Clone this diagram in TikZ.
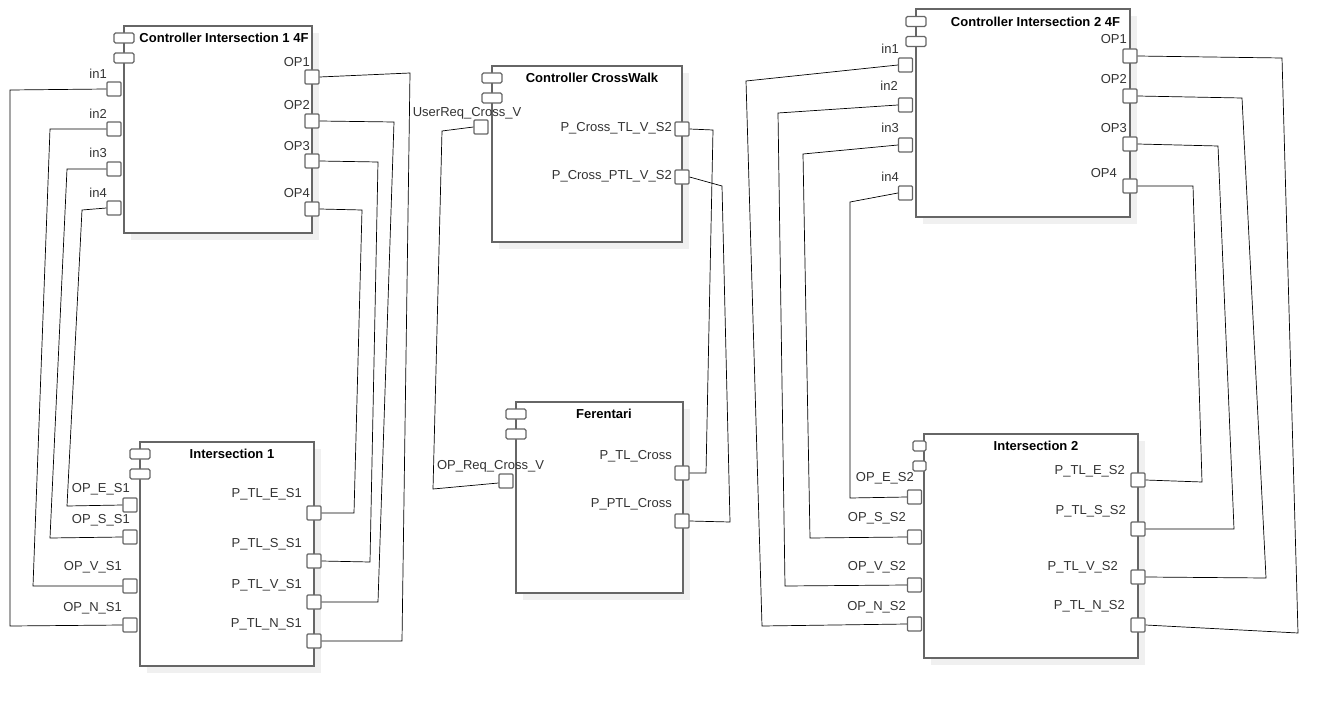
\documentclass[tikz,border=0pt]{standalone}
\usepackage{fontspec}
\setmainfont{Liberation Sans}
\usetikzlibrary{shadows}
\definecolor{bordergray}{HTML}{666666}
\definecolor{shadowgray}{HTML}{F0F0F0}
\definecolor{labelgray}{HTML}{333333}
\tikzset{
  comp/.style={draw=bordergray, line width=1.2pt, fill=white, inner sep=0pt,
    general shadow={fill=shadowgray, shadow xshift=7pt, shadow yshift=-7pt}},
  icon/.style={draw=bordergray, line width=1.1pt, fill=white, inner sep=0pt,
    minimum width=20pt, minimum height=10pt, rounded corners=1.5pt},
  port/.style={draw=bordergray, line width=1.1pt, fill=white, inner sep=0pt,
    minimum size=14pt, rounded corners=1pt},
  title/.style={font=\fontsize{13}{15}\selectfont\bfseries, inner sep=0pt, text=black},
  plabel/.style={font=\fontsize{13}{15}\selectfont, inner sep=0pt, text=labelgray},
  lab/.style={plabel, anchor=mid east},
  wire/.style={draw=black, line width=0.7pt},
}
\begin{document}
\begin{tikzpicture}[x=1pt,y=-1pt]
\useasboundingbox (0,0) rectangle (1339,706);

% ---------- Controller Intersection 1 4F ----------
\node[comp, minimum width=188pt, minimum height=207pt] (ca) at (218,129.5) {};
\node[icon] (ca-i1) at (124,38) {};
\node[icon] (ca-i2) at (124,58) {};
\node[title] (ca-t) at (224,38) {Controller Intersection 1 4F};
\node[port] (ca-in1) at (114,89) {};
\node[port] (ca-in2) at (114,129) {};
\node[port] (ca-in3) at (114,169) {};
\node[port] (ca-in4) at (114,208) {};
\node[port] (ca-op1) at (312,77) {};
\node[port] (ca-op2) at (312,121) {};
\node[port] (ca-op3) at (312,161) {};
\node[port] (ca-op4) at (312,209) {};
\node[lab] (l-ca-in1) at (107,76) {in1};
\node[lab] (l-ca-in2) at (107,116) {in2};
\node[lab] (l-ca-in3) at (107,155) {in3};
\node[lab] (l-ca-in4) at (107,195) {in4};
\node[lab] (l-ca-op1) at (310,64) {OP1};
\node[lab] (l-ca-op2) at (310,107) {OP2};
\node[lab] (l-ca-op3) at (310,148) {OP3};
\node[lab] (l-ca-op4) at (310,195) {OP4};

% ---------- Intersection 1 ----------
\node[comp, minimum width=174pt, minimum height=224pt] (cb) at (227,554) {};
\node[icon] (cb-i1) at (140,454) {};
\node[icon] (cb-i2) at (140,474) {};
\node[title] (cb-t) at (232,454) {Intersection 1};
\node[port] (cb-e) at (130,505) {};
\node[port] (cb-s) at (130,537) {};
\node[port] (cb-v) at (130,586) {};
\node[port] (cb-n) at (130,625) {};
\node[port] (cb-te) at (314,513) {};
\node[port] (cb-ts) at (314,561) {};
\node[port] (cb-tv) at (314,602) {};
\node[port] (cb-tn) at (314,641) {};
\node[lab] (l-cb-e) at (130,490) {OP\_E\_S1};
\node[lab] (l-cb-s) at (130,521) {OP\_S\_S1};
\node[lab] (l-cb-v) at (122,568) {OP\_V\_S1};
\node[lab] (l-cb-n) at (122,609) {OP\_N\_S1};
\node[lab] (l-cb-te) at (302,495) {P\_TL\_E\_S1};
\node[lab] (l-cb-ts) at (302,545) {P\_TL\_S\_S1};
\node[lab] (l-cb-tv) at (302,586) {P\_TL\_V\_S1};
\node[lab] (l-cb-tn) at (302,625) {P\_TL\_N\_S1};

% ---------- Controller CrossWalk ----------
\node[comp, minimum width=190pt, minimum height=176pt] (cc) at (587,154) {};
\node[icon] (cc-i1) at (492,78) {};
\node[icon] (cc-i2) at (492,98) {};
\node[title] (cc-t) at (592,78) {Controller CrossWalk};
\node[port] (cc-u) at (481,127) {};
\node[port] (cc-tl) at (682,129) {};
\node[port] (cc-ptl) at (682,177) {};
\node[plabel, anchor=mid] (l-cc-u) at (467,114) {UserReq\_Cross\_V};
\node[lab] (l-cc-tl) at (672,129) {P\_Cross\_TL\_V\_S2};
\node[lab] (l-cc-ptl) at (672,177) {P\_Cross\_PTL\_V\_S2};

% ---------- Ferentari ----------
\node[comp, minimum width=167pt, minimum height=191pt] (cd) at (599.5,497.5) {};
\node[icon] (cd-i1) at (516,414) {};
\node[icon] (cd-i2) at (516,434) {};
\node[title] (cd-t) at (604,414) {Ferentari};
\node[port] (cd-r) at (506,481) {};
\node[port] (cd-tl) at (682,473) {};
\node[port] (cd-ptl) at (682,521) {};
\node[plabel, anchor=mid] (l-cd-r) at (490.5,467) {OP\_Req\_Cross\_V};
\node[lab] (l-cd-tl) at (672,457) {P\_TL\_Cross};
\node[lab] (l-cd-ptl) at (672,505) {P\_PTL\_Cross};

% ---------- Controller Intersection 2 4F ----------
\node[comp, minimum width=214pt, minimum height=208pt] (ce) at (1023,113) {};
\node[icon] (ce-i1) at (916,21.5) {};
\node[icon] (ce-i2) at (916,41.5) {};
\node[title] (ce-t) at (1035.5,22) {Controller Intersection 2 4F};
\node[port] (ce-in1) at (905.5,65) {};
\node[port] (ce-in2) at (905.5,105) {};
\node[port] (ce-in3) at (905.5,145) {};
\node[port] (ce-in4) at (905.5,193) {};
\node[port] (ce-op1) at (1130,56) {};
\node[port] (ce-op2) at (1130,96) {};
\node[port] (ce-op3) at (1130,144) {};
\node[port] (ce-op4) at (1130,186) {};
\node[lab] (l-ce-in1) at (899,51) {in1};
\node[lab] (l-ce-in2) at (898,88) {in2};
\node[lab] (l-ce-in3) at (899,130) {in3};
\node[lab] (l-ce-in4) at (899,179) {in4};
\node[lab] (l-ce-op1) at (1127,41) {OP1};
\node[lab] (l-ce-op2) at (1127,81) {OP2};
\node[lab] (l-ce-op3) at (1127,130) {OP3};
\node[lab] (l-ce-op4) at (1117,175) {OP4};

% ---------- Intersection 2 ----------
\node[comp, minimum width=214pt, minimum height=224pt] (cf) at (1031,546) {};
\node[icon, minimum width=13pt] (cf-i1) at (919.5,446) {};
\node[icon, minimum width=13pt] (cf-i2) at (919.5,466) {};
\node[title] (cf-t) at (1036,446) {Intersection 2};
\node[port] (cf-e) at (914.5,497) {};
\node[port] (cf-s) at (914.5,537) {};
\node[port] (cf-v) at (914.5,585) {};
\node[port] (cf-n) at (914.5,624) {};
\node[port] (cf-te) at (1138,480) {};
\node[port] (cf-ts) at (1138,529) {};
\node[port] (cf-tv) at (1138,577) {};
\node[port] (cf-tn) at (1138,625) {};
\node[lab] (l-cf-e) at (914,479) {OP\_E\_S2};
\node[lab] (l-cf-s) at (906,519) {OP\_S\_S2};
\node[lab] (l-cf-v) at (906,568) {OP\_V\_S2};
\node[lab] (l-cf-n) at (906,608) {OP\_N\_S2};
\node[lab] (l-cf-te) at (1125,472) {P\_TL\_E\_S2};
\node[lab] (l-cf-ts) at (1126,512) {P\_TL\_S\_S2};
\node[lab] (l-cf-tv) at (1118,568) {P\_TL\_V\_S2};
\node[lab] (l-cf-tn) at (1125,607) {P\_TL\_N\_S2};

% ---------- connectors ----------
\draw[wire] (ca-in1.west) -- (10,90) -- (10,626) -- (cb-n.west);
\draw[wire] (ca-in2.west) -- (50,129) -- (33,586) -- (cb-v.west);
\draw[wire] (ca-in3.west) -- (67,169) -- (50,538) -- (cb-s.west);
\draw[wire] (ca-in4.west) -- (82,210) -- (67,506) -- (cb-e.west);
\draw[wire] (ca-op1.east) -- (410,73) -- (402,641) -- (cb-tn.east);
\draw[wire] (ca-op2.east) -- (394,122) -- (378,602) -- (cb-tv.east);
\draw[wire] (ca-op3.east) -- (378,162) -- (370,562) -- (cb-ts.east);
\draw[wire] (ca-op4.east) -- (362,210) -- (354,513) -- (cb-te.east);

\draw[wire] (cc-u.west) -- (442,131) -- (433,489) -- ([yshift=-2pt]cd-r.west);
\draw[wire] (cc-tl.east) -- (713,130) -- (706,473) -- (cd-tl.east);
\draw[wire] (cc-ptl.east) -- (722,186) -- (730,522) -- (cd-ptl.east);

\draw[wire] (ce-in1.west) -- (746,81) -- (762,626) -- (cf-n.west);
\draw[wire] (ce-in2.west) -- (778,113) -- (785,586) -- (cf-v.west);
\draw[wire] (ce-in3.west) -- (803,154) -- (810,538) -- (cf-s.west);
\draw[wire] (ce-in4.west) -- (850,202) -- (850,498) -- (cf-e.west);
\draw[wire] (ce-op1.east) -- (1282,58) -- (1298,633) -- (cf-tn.east);
\draw[wire] (ce-op2.east) -- (1242,98) -- (1266,578) -- (cf-tv.east);
\draw[wire] (ce-op3.east) -- (1218,146) -- (1234,529) -- (cf-ts.east);
\draw[wire] (ce-op4.east) -- (1193,186) -- (1202,482) -- (cf-te.east);
\end{tikzpicture}
\end{document}
